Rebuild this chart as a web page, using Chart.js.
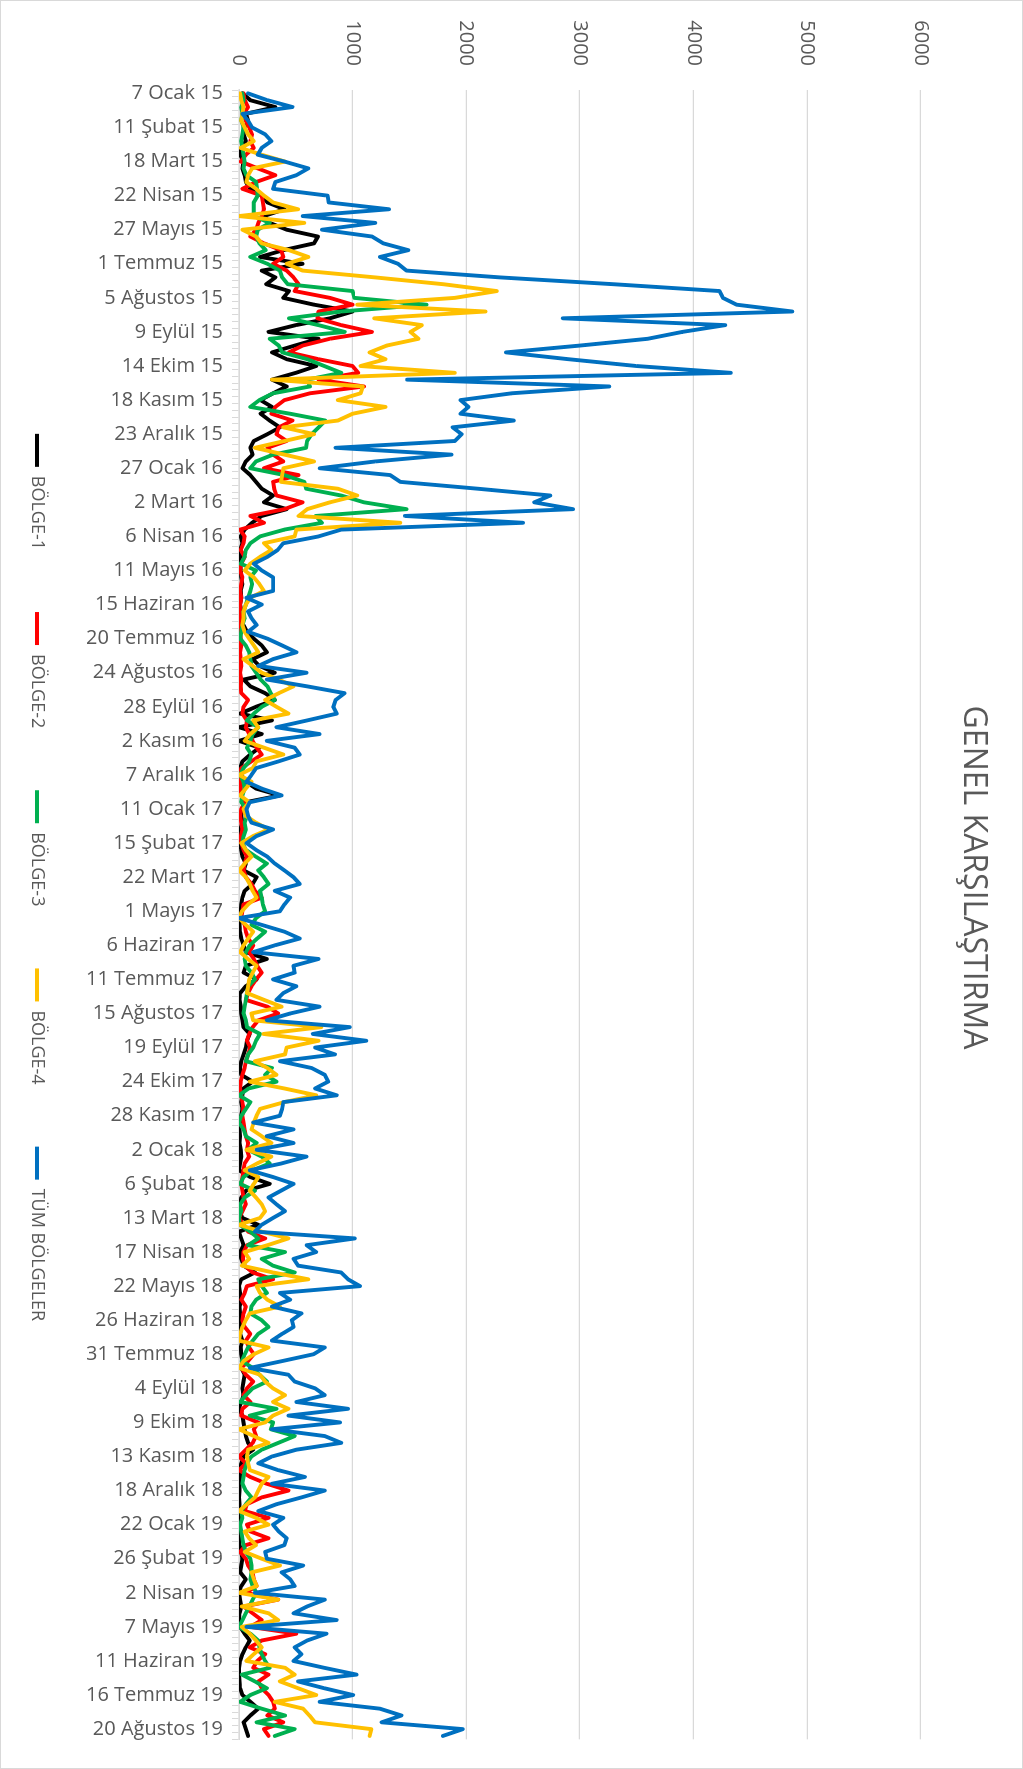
<!DOCTYPE html>
<html>
<head>
<meta charset="utf-8">
<script src="https://cdn.jsdelivr.net/npm/chart.js@4.4.1/dist/chart.umd.min.js"></script>
<style>
  html, body { margin: 0; padding: 0; background: #ffffff; width: 1023px; height: 1769px; overflow: hidden; }
  /* the chart is laid out landscape and turned a quarter clockwise */
  #wrap { position: absolute; left: 0; top: 0; width: 1769px; height: 1023px;
          transform-origin: 0 0; transform: translate(1023px, 0) rotate(90deg); }
  #frame { position: absolute; left: 0; top: 0; width: 1023px; height: 1769px;
           box-sizing: border-box; border: 1px solid #d9d9d9; pointer-events: none; }
</style>
</head>
<body>
<div id="wrap"><canvas id="c" width="1769" height="1023"></canvas></div>
<div id="frame"></div>
<script>
// Axis labels shown every fifth week
const tickLabels = [
  '7 Ocak 15','11 Şubat 15','18 Mart 15','22 Nisan 15','27 Mayıs 15','1 Temmuz 15','5 Ağustos 15',
  '9 Eylül 15','14 Ekim 15','18 Kasım 15','23 Aralık 15','27 Ocak 16','2 Mart 16','6 Nisan 16',
  '11 Mayıs 16','15 Haziran 16','20 Temmuz 16','24 Ağustos 16','28 Eylül 16','2 Kasım 16','7 Aralık 16',
  '11 Ocak 17','15 Şubat 17','22 Mart 17','1 Mayıs 17','6 Haziran 17','11 Temmuz 17','15 Ağustos 17',
  '19 Eylül 17','24 Ekim 17','28 Kasım 17','2 Ocak 18','6 Şubat 18','13 Mart 18','17 Nisan 18',
  '22 Mayıs 18','26 Haziran 18','31 Temmuz 18','4 Eylül 18','9 Ekim 18','13 Kasım 18','18 Aralık 18',
  '22 Ocak 19','26 Şubat 19','2 Nisan 19','7 Mayıs 19','11 Haziran 19','16 Temmuz 19','20 Ağustos 19'
];
const WEEKS = 242;

// Weekly values per region
const bolge1 = [
  30,100,320,60,80,50,40,60,20,10, 40,30,50,60,100,200,250,400,220,270, 420,695,660,390,185,560,
  200,320,240,440,390,660,1000,800,500,260, 700,490,290,420,680,500,290,420,300,190, 290,190,270,360,250,
  130,100,120,60,30,100,150,200,300,220, 420,200,115,50,15,30,10,20,10,15, 20,30,15,20,10,20,
  15,40,70,130,200,245,120,180,315,40, 100,230,315,150,10,290,0,200,0,180, 100,30,10,20,60,150,360,60,30,20, 30,10,20,5,
  20,30,60,40,155,120,50,30,20,15, 10,5,10,20,40,60,245,60,40,155, 60,10,5,15,20,30,40,95,70,60, 40,20,10,20,
  120,40,30,20,30,20,10,5,10,5, 15,20,10,0,100,270,60,20,10,5, 30,170,0,20,40,10,20,40,140,20, 0,10,20,5,
  10,15,20,10,30,15,20,30,20,50, 40,30,40,20,0,30,40,50,60,80, 125,40,20,10,10,5,5,0,5,0, 5,0,5,0,5,
  20,30,20,10,60,20,0,10,20,5, 0,10,50,95,60,30,10,0,0,5, 10,30,100,170,100,40,60,80
];
const bolge2 = [
  40,50,80,40,60,90,115,100,130,60, 15,165,320,150,30,200,210,220,200,170, 150,100,220,370,390,300,
  420,480,525,490,800,1000,700,690,900,1170, 800,560,440,700,1000,1050,700,1100,625,400, 320,285,470,350,330,
  420,250,300,390,220,525,300,310,330,560, 400,100,220,10,50,40,15,50,20,10, 30,20,10,20,10,15,
  10,20,10,15,20,10,15,20,10,20, 15,20,80,40,30,70,60,90,120,155, 200,110,20,10,20,15,20,50,20,10, 20,30,15,20,
  40,70,50,40,60,110,140,200,40,30, 20,50,60,80,125,90,130,160,200,150, 110,80,60,250,345,170,120,90,70,100, 80,60,50,30,
  15,10,20,30,40,30,40,50,60,80, 70,90,50,40,30,20,30,40,60,30, 0,40,80,230,70,40,35,50,120,300, 70,50,20,60,
  40,30,50,100,60,90,130,80,20,60, 125,70,40,100,30,20,170,130,150,120, 60,0,60,0,100,245,435,200,70,50, 260,70,100,260,60,
  10,60,80,120,130,155,60,345,40,120, 200,100,505,200,95,230,160,125,260,170, 200,260,300,315,250,390,220,260
];
const bolge3 = [
  30,40,20,30,20,40,30,20,30,40, 50,40,65,150,160,165,130,130,130,270, 165,150,180,235,100,250,
  360,380,430,1000,1015,1650,900,440,700,930, 270,350,380,600,750,900,600,625,300,180, 100,450,760,700,640,
  600,590,300,150,100,400,575,590,900,1100, 1475,675,730,400,185,100,60,50,15,150, 100,115,100,80,60,40,
  50,30,20,10,60,90,100,110,150,190, 250,280,315,200,130,70,170,120,100,70, 110,90,40,10,40,50,30,20,60,70, 50,60,40,30,
  60,150,245,170,220,260,185,200,210,230, 150,110,230,160,95,60,50,60,110,140, 80,70,60,50,40,60,70,185,150,125, 80,60,290,230,
  330,85,0,100,60,20,0,40,60,155, 80,200,270,120,40,10,140,50,10,20, 0,5,100,170,80,405,200,300,490,170, 200,245,150,110,
  100,200,260,170,120,80,50,25,120,180, 245,120,60,10,330,95,300,280,490,345, 200,110,70,50,40,30,60,110,60,20, 30,10,20,30,40,
  60,100,110,110,100,120,155,120,90,60, 30,0,100,170,180,200,230,270,25,140, 245,100,10,200,405,155,490,315
];
const bolge4 = [
  10,20,40,30,20,50,80,130,15,200, 405,115,80,65,150,220,300,520,0,575, 30,150,200,440,610,420,
  560,1200,1800,2270,1900,1040,2170,1190,1610,1510, 1580,1300,1150,1290,1070,1900,290,1090,1070,870, 1290,1000,870,390,660,
  400,140,400,660,390,380,370,870,1040,800, 600,525,1420,505,490,220,285,185,100,50, 130,180,220,100,60,40,
  40,30,50,90,130,170,40,120,200,350, 480,350,230,330,435,125,170,100,50,220, 390,155,120,0,110,60,10,90,40,60, 150,260,120,20,
  60,110,50,0,60,95,120,155,80,25, 0,60,125,80,40,10,80,155,120,90, 80,70,220,375,110,125,725,215,700,420, 405,140,250,330,
  95,400,680,400,185,155,130,110,200,285, 65,285,160,50,170,130,95,150,200,230, 185,0,200,435,250,50,90,25,300,610, 155,185,250,360,
  95,60,30,10,0,260,130,40,0,185, 230,300,405,300,435,300,230,0,130,260, 80,70,80,95,260,200,170,140,70,0, 150,260,50,90,150,
  50,200,360,110,130,155,0,345,25,260, 345,25,95,150,200,130,65,405,490,360, 520,680,315,565,620,670,1165,1150
];
const tumBolgeler = [
  80,250,470,30,80,115,230,285,200,165, 400,610,505,320,300,780,790,1320,560,1200, 730,1170,1270,1490,1240,1400,
  1475,2300,3300,4230,4260,4380,4870,2850,4280,3900, 3600,3000,2350,2900,3500,4330,1480,3260,2400,1950, 2020,1950,2420,1880,1960,
  1900,850,1870,1200,710,1330,1420,2100,2740,2600, 2940,1460,2500,900,700,390,340,250,130,200, 300,300,300,65,200,80,
  110,155,80,250,380,505,300,170,595,245, 600,930,850,830,860,600,330,710,245,490, 535,350,150,110,65,200,375,95,65,80, 110,300,150,67,
  150,250,315,400,480,535,315,450,400,360, 0,200,400,535,315,125,700,480,490,300, 505,390,330,710,450,245,975,650,1120,670, 845,360,640,755,
  785,670,860,390,380,360,125,480,245,480, 155,595,375,95,300,480,370,260,330,405, 300,200,140,1020,595,680,480,520,900,960, 1065,360,450,290,
  550,465,480,380,290,755,655,380,95,435, 490,670,755,505,960,435,890,290,755,900, 505,290,170,345,580,290,755,550,330,170, 390,300,350,420,400,
  230,245,565,375,450,490,140,755,600,480, 860,65,770,600,490,550,480,750,1035,520, 750,1005,710,1240,1430,1255,1970,1795
];

// one category per week; every fifth one carries a date label
const categories = [];
for (let i = 0; i < WEEKS; i++) categories.push(i % 5 === 0 ? tickLabels[i / 5] : '');

const FONT = "'Open Sans', 'Liberation Sans', sans-serif";
const TEXT = '#595959';
const GRID = '#d9d9d9';

function series(label, data, color, order) {
  return { label, data, borderColor: color, backgroundColor: color, order,
           borderWidth: 3.9, pointRadius: 0, tension: 0, fill: false,
           borderJoinStyle: 'round', borderCapStyle: 'round' };
}

// long date labels run past the axis box into the space above the legend,
// so they are drawn without the box clip
const unclippedDateLabels = {
  id: 'unclippedDateLabels',
  beforeDraw(chart) {
    const s = chart.scales.x;
    if (s) s._computeLabelArea = () => undefined;
  }
};

new Chart(document.getElementById('c'), {
  type: 'line',
  data: {
    labels: categories,
    datasets: [
      series('BÖLGE-1', bolge1, '#000000', 4),
      series('BÖLGE-2', bolge2, '#ff0000', 3),
      series('BÖLGE-3', bolge3, '#00b050', 2),
      series('BÖLGE-4', bolge4, '#ffc000', 1),
      series('TÜM BÖLGELER', tumBolgeler, '#0070c0', 0)
    ]
  },
  plugins: [unclippedDateLabels],
  options: {
    responsive: false,
    animation: false,
    devicePixelRatio: 1,
    events: [],
    layout: { padding: { left: 0, right: 14, top: 0, bottom: 18 } },
    plugins: {
      title: {
        display: true, text: 'GENEL KARŞILAŞTIRMA', color: TEXT,
        font: { family: FONT, size: 32, weight: 'normal' },
        padding: { top: 31, bottom: 33 }
      },
      legend: {
        position: 'bottom',
        labels: {
          usePointStyle: true, pointStyle: 'line', pointStyleWidth: 33,
          color: TEXT, font: { family: FONT, size: 18 }, padding: 62,
          sort: (a, b) => a.datasetIndex - b.datasetIndex
        }
      },
      tooltip: { enabled: false }
    },
    scales: {
      x: {
        type: 'category',
        offset: true,
        grid: { display: true, drawOnChartArea: false, drawTicks: true, tickLength: 7,
                color: GRID, lineWidth: 1, offset: true },
        border: { display: true, color: GRID, width: 1.5 },
        ticks: { autoSkip: false, maxRotation: 90, minRotation: 90, padding: 9,
                 color: TEXT, font: { family: FONT, size: 20 } },
        afterFit(scale) { scale.height = 131; }
      },
      y: {
        min: 0, max: 6000,
        ticks: { stepSize: 1000, padding: 24, color: TEXT, font: { family: FONT, size: 20 },
                 callback: (v) => String(v) },
        grid: { color: GRID, lineWidth: 1.3, drawTicks: false },
        border: { display: false },
        afterFit(scale) { scale.width = 90; }
      },
      edge: {
        type: 'linear', position: 'right', display: true,
        grid: { display: false }, border: { display: false }, ticks: { display: false },
        afterFit(scale) { scale.width = 12; }
      }
    }
  }
});
</script>
</body>
</html>
